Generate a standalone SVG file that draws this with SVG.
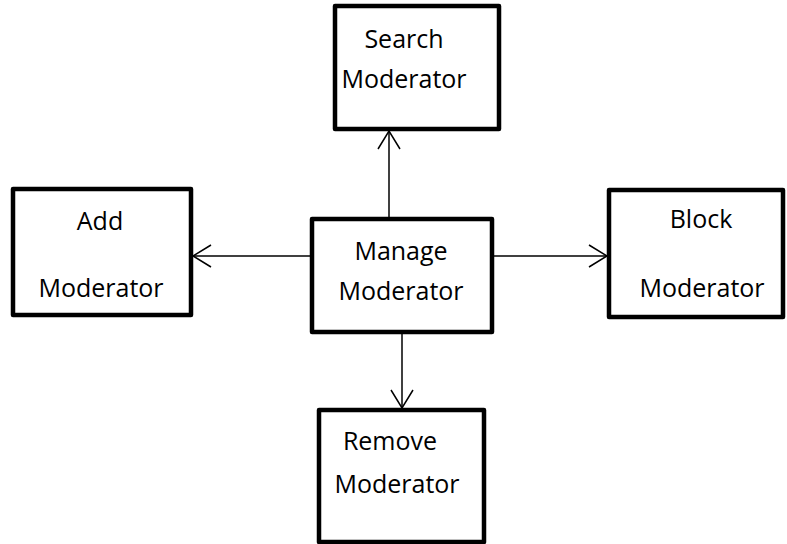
<svg xmlns="http://www.w3.org/2000/svg" width="787" height="544" viewBox="0 0 787 544">
<style>
.box{fill:#fff;stroke:#000;stroke-width:4.5;stroke-linejoin:round}
.lbl{font-family:"Open Sans","Noto Sans",sans-serif;font-size:25px;fill:#000;text-anchor:middle}
.edge{stroke:#000;stroke-width:1.5;fill:none}
</style>
<defs>
<marker id="arr" viewBox="0 0 20 24" refX="19" refY="12" markerWidth="20" markerHeight="24" markerUnits="userSpaceOnUse" orient="auto">
<path d="M1,1 L19,12 L1,23" fill="none" stroke="#000" stroke-width="1.5"/>
</marker>
</defs>
<g id="connectors">
<line class="edge" x1="389" y1="218" x2="389" y2="131" marker-end="url(#arr)"/>
<line class="edge" x1="312" y1="256" x2="193" y2="256" marker-end="url(#arr)"/>
<line class="edge" x1="492" y1="256" x2="607" y2="256" marker-end="url(#arr)"/>
<line class="edge" x1="402" y1="333" x2="402" y2="408" marker-end="url(#arr)"/>
</g>
<g id="search">
<rect class="box" x="335" y="6" width="164" height="123"/>
<text class="lbl" x="404" y="48">Search</text>
<text class="lbl" x="404" y="88">Moderator</text>
</g>
<g id="add">
<rect class="box" x="13" y="189" width="178" height="126"/>
<text class="lbl" x="100" y="230">Add</text>
<text class="lbl" x="101" y="297">Moderator</text>
</g>
<g id="manage">
<rect class="box" x="312" y="219" width="180" height="113"/>
<text class="lbl" x="401" y="260">Manage</text>
<text class="lbl" x="401" y="300">Moderator</text>
</g>
<g id="block">
<rect class="box" x="609" y="190" width="174" height="127"/>
<text class="lbl" x="701" y="228">Block</text>
<text class="lbl" x="702" y="297">Moderator</text>
</g>
<g id="remove">
<rect class="box" x="319" y="410" width="165" height="132"/>
<text class="lbl" x="390" y="450">Remove</text>
<text class="lbl" x="397" y="493">Moderator</text>
</g>
</svg>
